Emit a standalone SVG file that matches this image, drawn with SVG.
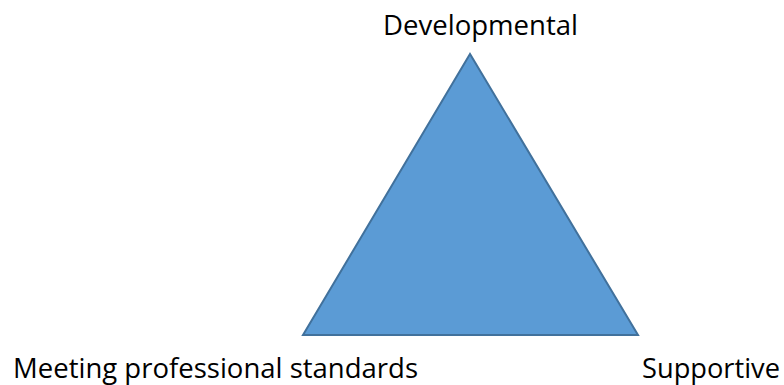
<svg xmlns="http://www.w3.org/2000/svg" width="784" height="385" viewBox="0 0 784 385">
  <style>
    .lbl { font-family: "Open Sans", "Noto Sans", "Liberation Sans", sans-serif; font-size: 27px; fill: #000; }
    .tri { fill: #5B9BD5; stroke: #41719C; stroke-width: 2; stroke-linejoin: miter; }
  </style>
  <rect width="784" height="385" fill="#fff"/>
  <g id="triangle">
    <polygon class="tri" points="470,54 303,335 638,335"/>
  </g>
  <g id="developmental">
    <text class="lbl" x="383" y="35" textLength="195" lengthAdjust="spacingAndGlyphs">Developmental</text>
  </g>
  <g id="standards">
    <text class="lbl" x="13" y="378" textLength="405" lengthAdjust="spacingAndGlyphs">Meeting professional standards</text>
  </g>
  <g id="supportive">
    <text class="lbl" x="642" y="378" textLength="138" lengthAdjust="spacingAndGlyphs">Supportive</text>
  </g>
</svg>
